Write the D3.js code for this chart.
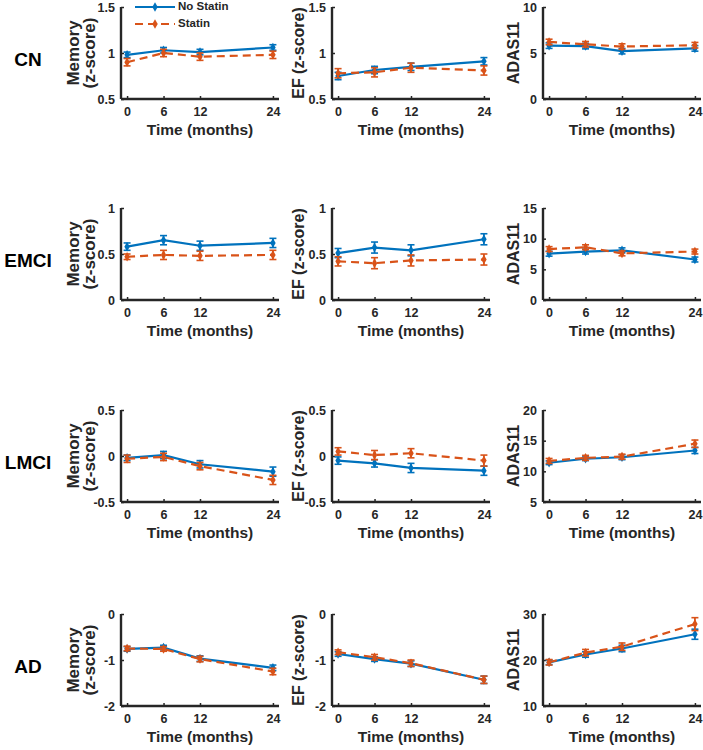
<!DOCTYPE html>
<html><head><meta charset="utf-8">
<script src="https://cdn.jsdelivr.net/npm/d3@7"></script>
<style>body{margin:0;background:#fff}svg{display:block}text{font-family:"Liberation Sans",Arial,sans-serif;font-weight:bold}</style>
</head><body><svg id="c" width="703" height="750"></svg>
<script>
const months = [0, 6, 12, 24];
const groups = ["CN", "EMCI", "LMCI", "AD"];
const measures = ["Memory", "EF", "ADAS11"];
const yLabels = [["Memory", "(z-score)"], ["EF (z-score)"], ["ADAS11"]];
const seriesNames = ["No Statin", "Statin"];
// y domains [row][col]
const yDomains = [
  [[0.5, 1.5], [0.5, 1.5], [0, 10]],
  [[0, 1], [0, 1], [0, 15]],
  [[-0.5, 0.5], [-0.5, 0.5], [5, 20]],
  [[-2, 0], [-2, 0], [10, 30]]
];
const yTicks = [
  [[0.5, 1, 1.5], [0.5, 1, 1.5], [0, 5, 10]],
  [[0, 0.5, 1], [0, 0.5, 1], [0, 5, 10, 15]],
  [[-0.5, 0, 0.5], [-0.5, 0, 0.5], [5, 10, 15, 20]],
  [[-2, -1, 0], [-2, -1, 0], [10, 20, 30]]
];
// No Statin means [row][col]
const noStatin = [
  [[0.98, 1.03, 1.01, 1.06], [0.75, 0.815, 0.85, 0.91], [5.8, 5.75, 5.2, 5.5]],
  [[0.58, 0.65, 0.59, 0.62], [0.51, 0.57, 0.54, 0.66], [7.55, 7.9, 8.1, 6.6]],
  [[-0.02, 0.01, -0.09, -0.17], [-0.05, -0.08, -0.13, -0.16], [11.4, 12.05, 12.3, 13.4]],
  [[-0.76, -0.73, -0.97, -1.17], [-0.87, -0.98, -1.08, -1.43], [19.5, 21.2, 22.5, 25.6]]
];
const noStatinErr = [
  [[0.03, 0.03, 0.03, 0.03], [0.04, 0.04, 0.04, 0.04], [0.3, 0.3, 0.3, 0.3]],
  [[0.04, 0.05, 0.05, 0.05], [0.05, 0.06, 0.06, 0.06], [0.4, 0.4, 0.4, 0.4]],
  [[0.03, 0.04, 0.04, 0.05], [0.04, 0.04, 0.05, 0.05], [0.3, 0.3, 0.4, 0.5]],
  [[0.05, 0.05, 0.06, 0.06], [0.05, 0.05, 0.06, 0.08], [0.5, 0.6, 0.7, 1.1]]
];
const statin = [
  [[0.90, 1.0, 0.96, 0.98], [0.78, 0.79, 0.84, 0.81], [6.2, 5.95, 5.7, 5.85]],
  [[0.47, 0.49, 0.48, 0.49], [0.42, 0.40, 0.43, 0.44], [8.3, 8.6, 7.6, 7.9]],
  [[-0.03, -0.01, -0.11, -0.26], [0.05, 0.01, 0.03, -0.05], [11.7, 12.2, 12.4, 14.5]],
  [[-0.75, -0.76, -0.98, -1.25], [-0.83, -0.94, -1.07, -1.43], [19.5, 21.6, 22.9, 27.8]]
];
const statinErr = [
  [[0.04, 0.04, 0.04, 0.04], [0.05, 0.05, 0.05, 0.05], [0.3, 0.3, 0.3, 0.3]],
  [[0.03, 0.05, 0.05, 0.05], [0.05, 0.06, 0.06, 0.06], [0.4, 0.4, 0.4, 0.4]],
  [[0.04, 0.04, 0.04, 0.05], [0.04, 0.05, 0.05, 0.06], [0.4, 0.4, 0.4, 0.6]],
  [[0.05, 0.05, 0.06, 0.07], [0.05, 0.06, 0.07, 0.08], [0.6, 0.7, 0.8, 1.4]]
];

const blue = "#0072BD", orange = "#D95319", axisCol = "#262626";
const svg = d3.select("#c");
const colLeft = [121, 332, 543], rowTop = [7, 208, 410, 614];
const pw = 158, ph = 92;

groups.forEach((g, r) => {
  svg.append("text").attr("x", 28).attr("y", rowTop[r] + ph / 2 + 8)
    .attr("text-anchor", "middle").attr("font-size", 19).attr("fill", "#000")
    .attr("dominant-baseline", "middle").text(g);
  measures.forEach((m, c) => {
    const L = colLeft[c], T = rowTop[r];
    const x = d3.scaleLinear().domain([-1, 25]).range([L, L + pw]);
    const y = d3.scaleLinear().domain(yDomains[r][c]).range([T + ph, T]);
    const gp = svg.append("g");
    // axes
    const xa = gp.append("g").attr("transform", `translate(0,${T + ph})`)
      .call(d3.axisBottom(x).tickValues(months).tickSize(-3).tickPadding(8).tickFormat(d3.format("d")));
    const ya = gp.append("g").attr("transform", `translate(${L},0)`)
      .call(d3.axisLeft(y).tickValues(yTicks[r][c]).tickSize(-3).tickPadding(6).tickFormat(d => String(d)));
    [xa, ya].forEach(a => {
      a.select(".domain").attr("stroke", axisCol).attr("stroke-width", 2.4);
      a.selectAll(".tick line").attr("stroke", axisCol).attr("stroke-width", 1.5);
      a.selectAll("text").attr("fill", axisCol).attr("font-size", 12.5)
        .style("font-family", "Liberation Sans, Arial").style("font-weight", "bold");
    });
    xa.select(".domain").attr("d", `M${L},0H${L + pw}`);
    ya.select(".domain").attr("d", `M0,${T + ph}V${T}`);
    gp.append("text").attr("x", x(12)).attr("y", T + ph + 36).attr("text-anchor", "middle")
      .attr("font-size", 15.5).attr("fill", axisCol).text("Time (months)");
    // y label
    const lines = yLabels[c];
    const lx = c === 0 ? [L - 46, L - 30] : c === 1 ? [L - 32] : [L - 28];
    const fs = c === 0 ? 17 : 16;
    lines.forEach((t, i) => {
      gp.append("text").attr("transform", `translate(${lx[i]},${T + ph / 2}) rotate(-90)`)
        .attr("text-anchor", "middle").attr("dominant-baseline", "middle")
        .attr("font-size", fs).attr("fill", axisCol).text(t);
    });
    // series
    const sets = [
      {v: noStatin[r][c], e: noStatinErr[r][c], col: blue, dash: null},
      {v: statin[r][c], e: statinErr[r][c], col: orange, dash: "8,5"}
    ];
    sets.forEach(s => {
      const pts = months.map((mm, i) => ({x: mm, y: s.v[i], e: s.e[i]}));
      gp.append("path").datum(pts).attr("fill", "none").attr("stroke", s.col).attr("stroke-width", 2.2)
        .attr("stroke-dasharray", s.dash)
        .attr("d", d3.line().x(d => x(d.x)).y(d => y(d.y)));
      const eb = gp.append("g").selectAll("g").data(pts).join("g");
      eb.append("line").attr("x1", d => x(d.x)).attr("x2", d => x(d.x))
        .attr("y1", d => y(d.y - d.e)).attr("y2", d => y(d.y + d.e)).attr("stroke", s.col).attr("stroke-width", 1.8);
      [-1, 1].forEach(sg => eb.append("line").attr("x1", d => x(d.x) - 3.5).attr("x2", d => x(d.x) + 3.5)
        .attr("y1", d => y(d.y + sg * d.e)).attr("y2", d => y(d.y + sg * d.e)).attr("stroke", s.col).attr("stroke-width", 1.6));
      eb.append("path").attr("transform", d => `translate(${x(d.x)},${y(d.y)})`)
        .attr("d", d3.symbol(d3.symbolDiamond, 26)).attr("fill", s.col);
    });
    // legend
    if (r === 0 && c === 0) {
      const lg = svg.append("g");
      [[blue, null, 7], [orange, "8,5", 24]].forEach((s, i) => {
        lg.append("line").attr("x1", 135).attr("x2", 175).attr("y1", s[2]).attr("y2", s[2])
          .attr("stroke", s[0]).attr("stroke-width", 2.2).attr("stroke-dasharray", s[1]);
        lg.append("path").attr("transform", `translate(155,${s[2]})`).attr("d", d3.symbol(d3.symbolDiamond, 26)).attr("fill", s[0]);
        lg.append("text").attr("x", 178).attr("y", s[2]).attr("dominant-baseline", "middle")
          .attr("font-size", 11.5).attr("fill", axisCol).text(seriesNames[i]);
      });
    }
  });
});
</script></body></html>
